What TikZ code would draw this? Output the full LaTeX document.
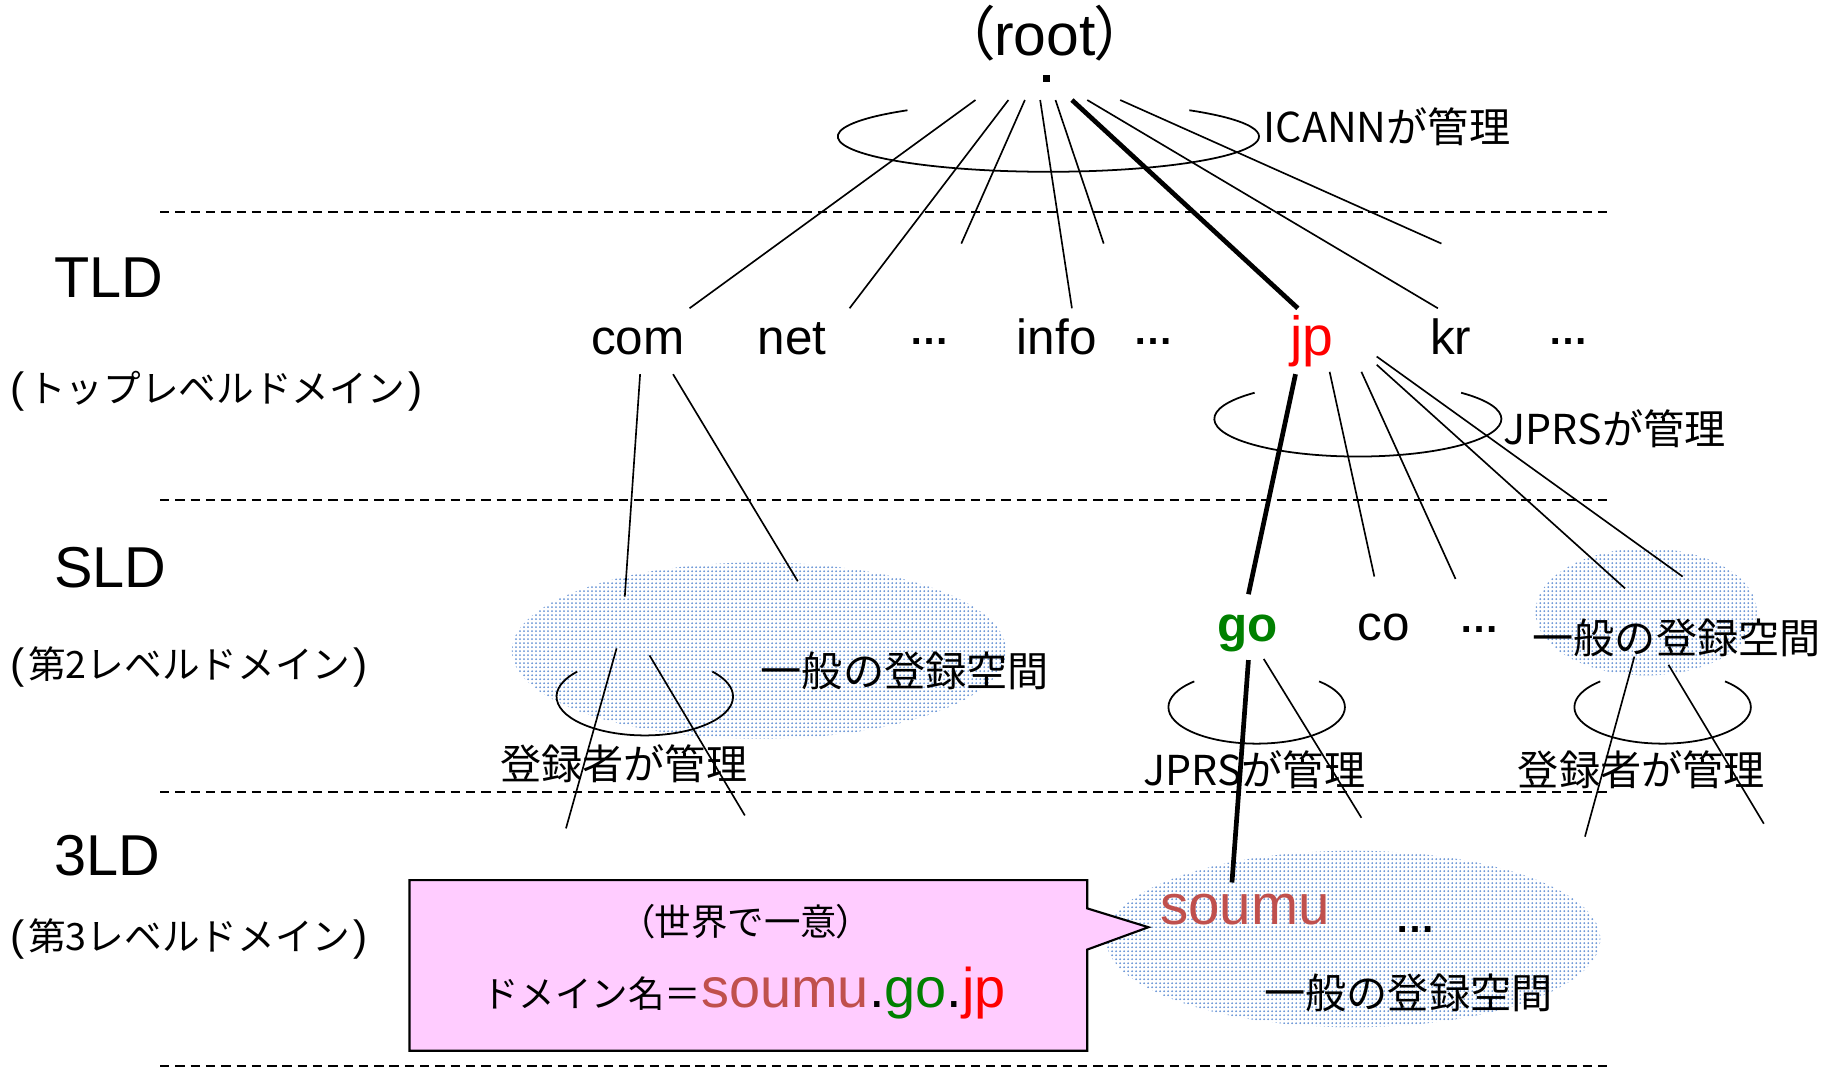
\documentclass[tikz,border=0pt]{standalone}
\usepackage{fontspec}
\setmainfont{Noto Sans CJK JP}
\newfontfamily\arialf{Liberation Sans}
\newfontfamily\jpalt[RawFeature=+palt]{Noto Sans CJK JP}
\usetikzlibrary{patterns.meta}
\definecolor{soumuc}{RGB}{192,80,77}
\definecolor{goc}{RGB}{0,128,0}
\definecolor{jpc}{RGB}{255,0,0}
\definecolor{pinkc}{RGB}{255,204,255}
\definecolor{dotc}{RGB}{100,145,212}
\newcommand\jlp{{\jpalt （}}
\newcommand\jrp{{\jpalt ）}}
\newcommand\hlp{{\arialf\fontsize{36}{40}\selectfont(}\kern3pt}
\newcommand\hrp{\kern3pt{\arialf\fontsize{36}{40}\selectfont)}}
\begin{document}
\begin{tikzpicture}[x=1pt,y=-1pt,
  every node/.style={inner sep=0pt, outer sep=0pt},
  lat/.style={font=\arialf\fontsize{42}{48}\selectfont, anchor=base},
  jlab/.style={font=\fontsize{35}{40}\selectfont},
  lvl/.style={font=\arialf\fontsize{49}{56}\selectfont, anchor=base west},
  lvlj/.style={font=\fontsize{32}{36}\selectfont, anchor=base west},
  ellip/.style={font=\arialf\bfseries\fontsize{34}{40}\selectfont},
  edge/.style={line width=1.4pt},
  mainedge/.style={line width=4pt},
  ring/.style={line width=1.5pt},
  levelline/.style={line width=1.4pt, dash pattern=on 8pt off 5pt},
  regspace/.style={pattern={Dots[distance=3.4pt, radius=0.85pt]}, pattern color=dotc},
]
\useasboundingbox (0,0) rectangle (1568,907);

% level separators
\foreach \yy/\nm in {180/a,425/b,673/c,906/d}{
  \coordinate (ll\nm w) at (136,\yy);
  \coordinate (ll\nm e) at (1368,\yy);
  \draw[levelline] (ll\nm w) -- (ll\nm e);
}

% registration spaces
\path[regspace] (645,553) ellipse [x radius=210, y radius=75];
\path[regspace] (1399,520) ellipse [x radius=94, y radius=54];
\path[regspace] (1150,798) ellipse [x radius=210, y radius=75];

% root edges
\foreach \i/\sx/\ex/\ey/\st in {1/829/586/262/edge, 2/857/722/262/edge, 3/871/817/207/edge, 4/884/911/262/edge, 5/897/938/207/edge, 6/911/1103/262/mainedge, 7/924/1222/262/edge, 8/952/1225/207/edge}{
  \coordinate (rs\i) at (\sx,85);
  \coordinate (re\i) at (\ex,\ey);
  \draw[\st] (rs\i) -- (re\i);
}

% com edges
\coordinate (cs1) at (544,318); \coordinate (ce1) at (531,507);
\coordinate (cs2) at (572,318); \coordinate (ce2) at (678,494);
\draw[edge] (cs1) -- (ce1);
\draw[edge] (cs2) -- (ce2);

% jp edges
\coordinate (js1) at (1101,318); \coordinate (je1) at (1061,505);
\coordinate (js2) at (1130,316); \coordinate (je2) at (1168,490);
\coordinate (js3) at (1157,316); \coordinate (je3) at (1237,492);
\coordinate (js4) at (1170,310); \coordinate (je4) at (1381,500);
\coordinate (js5) at (1170,303); \coordinate (je5) at (1430,490);
\draw[mainedge] (js1) -- (je1);
\draw[edge] (js2) -- (je2);
\draw[edge] (js3) -- (je3);
\draw[edge] (js4) -- (je4);
\draw[edge] (js5) -- (je5);

% com-space edges
\coordinate (ks1) at (524,551); \coordinate (ke1) at (481,704);
\coordinate (ks2) at (552,557); \coordinate (ke2) at (633,693);
\draw[edge] (ks1) -- (ke1);
\draw[edge] (ks2) -- (ke2);

% go edges
\coordinate (gs1) at (1061,561); \coordinate (ge1) at (1047,750);
\coordinate (gs2) at (1074,560); \coordinate (ge2) at (1157,695);
\draw[mainedge] (gs1) -- (ge1);
\draw[edge] (gs2) -- (ge2);

% right-space edges
\coordinate (ps1) at (1389,558); \coordinate (pe1) at (1347,711);
\coordinate (ps2) at (1418,565); \coordinate (pe2) at (1499,700);
\draw[edge] (ps1) -- (pe1);
\draw[edge] (ps2) -- (pe2);

% management rings
\draw[ring] (891,116) ++(228:179 and 30) arc[start angle=228, end angle=-48, x radius=179, y radius=30];
\draw[ring] (1154,356) ++(224:122 and 32) arc[start angle=224, end angle=-44, x radius=122, y radius=32];
\draw[ring] (548,592) ++(220:75 and 33) arc[start angle=220, end angle=-40, x radius=75, y radius=33];
\draw[ring] (1068,601) ++(225:75 and 31) arc[start angle=225, end angle=-45, x radius=75, y radius=31];
\draw[ring] (1413,601) ++(225:75 and 31) arc[start angle=225, end angle=-45, x radius=75, y radius=31];

% root
\node[font=\fontsize{50}{54}\selectfont, anchor=base] (root) at (888,47) {\jlp{\arialf root}\jrp};
\node[fill=black, minimum size=6pt] (rootdot) at (889,67) {};
\node[jlab, anchor=west] (icann) at (1074,108) {ICANNが管理};

% TLD row
\node[lat] (com) at (542,301) {com};
\node[lat] (net) at (673,301) {net};
\node[ellip] (e1) at (790,290) {…};
\node[lat] (info) at (898,301) {info};
\node[ellip] (e2) at (980,290) {…};
\node[lat, font=\arialf\fontsize{47}{52}\selectfont, text=jpc] (jp) at (1115,302) {jp};
\node[lat] (kr) at (1233,301) {kr};
\node[ellip] (e3) at (1333,290) {…};
\node[jlab, anchor=west] (jprs1) at (1278,364) {JPRSが管理};

% SLD row
\node[font=\arialf\bfseries\fontsize{42}{48}\selectfont, anchor=base, text=goc] (go) at (1060,545) {go};
\node[lat] (co) at (1176,544) {co};
\node[ellip] (e4) at (1257,535) {…};
\node[jlab] (gen2) at (1425,542) {一般の登録空間};
\node[jlab] (gen1) at (769,570) {一般の登録空間};
\node[jlab] (reg1) at (530,649) {登録者が管理};
\node[jlab] (jprs2) at (1066,654) {JPRSが管理};
\node[jlab] (reg2) at (1395,654) {登録者が管理};

% 3LD row
\node[font=\arialf\fontsize{48}{54}\selectfont, text=soumuc, anchor=base west] (soumu) at (986,786) {soumu};
\node[ellip] (e5) at (1203,790) {…};
\node[jlab] (gen3) at (1197,844) {一般の登録空間};

% callout
\draw[fill=pinkc, line width=1.8pt, line join=miter] (348,748) -- (924,748) -- (924,772) -- (976,788) -- (924,807) -- (924,893) -- (348,893) -- cycle;
\node[font=\fontsize{31}{36}\selectfont] (uniq) at (634,783) {\jlp 世界で一意\jrp};
\node[anchor=base west, font=\fontsize{31}{36}\selectfont] (dname) at (410,856) {ドメイン名＝{\arialf\fontsize{47.5}{54}\selectfont\color{soumuc}soumu\color{black}.\color{goc}go\color{black}.\color{jpc}jp}};

% level labels
\node[lvl] (tld) at (46,253) {TLD};
\node[lvlj] (tldj) at (9,342) {\hlp トップレベルドメイン\hrp};
\node[lvl] (sld) at (46,499) {SLD};
\node[lvlj] (sldj) at (9,577) {\hlp 第2レベルドメイン\hrp};
\node[lvl] (thld) at (46,744) {3LD};
\node[lvlj] (thldj) at (9,808) {\hlp 第3レベルドメイン\hrp};
\end{tikzpicture}
\end{document}
